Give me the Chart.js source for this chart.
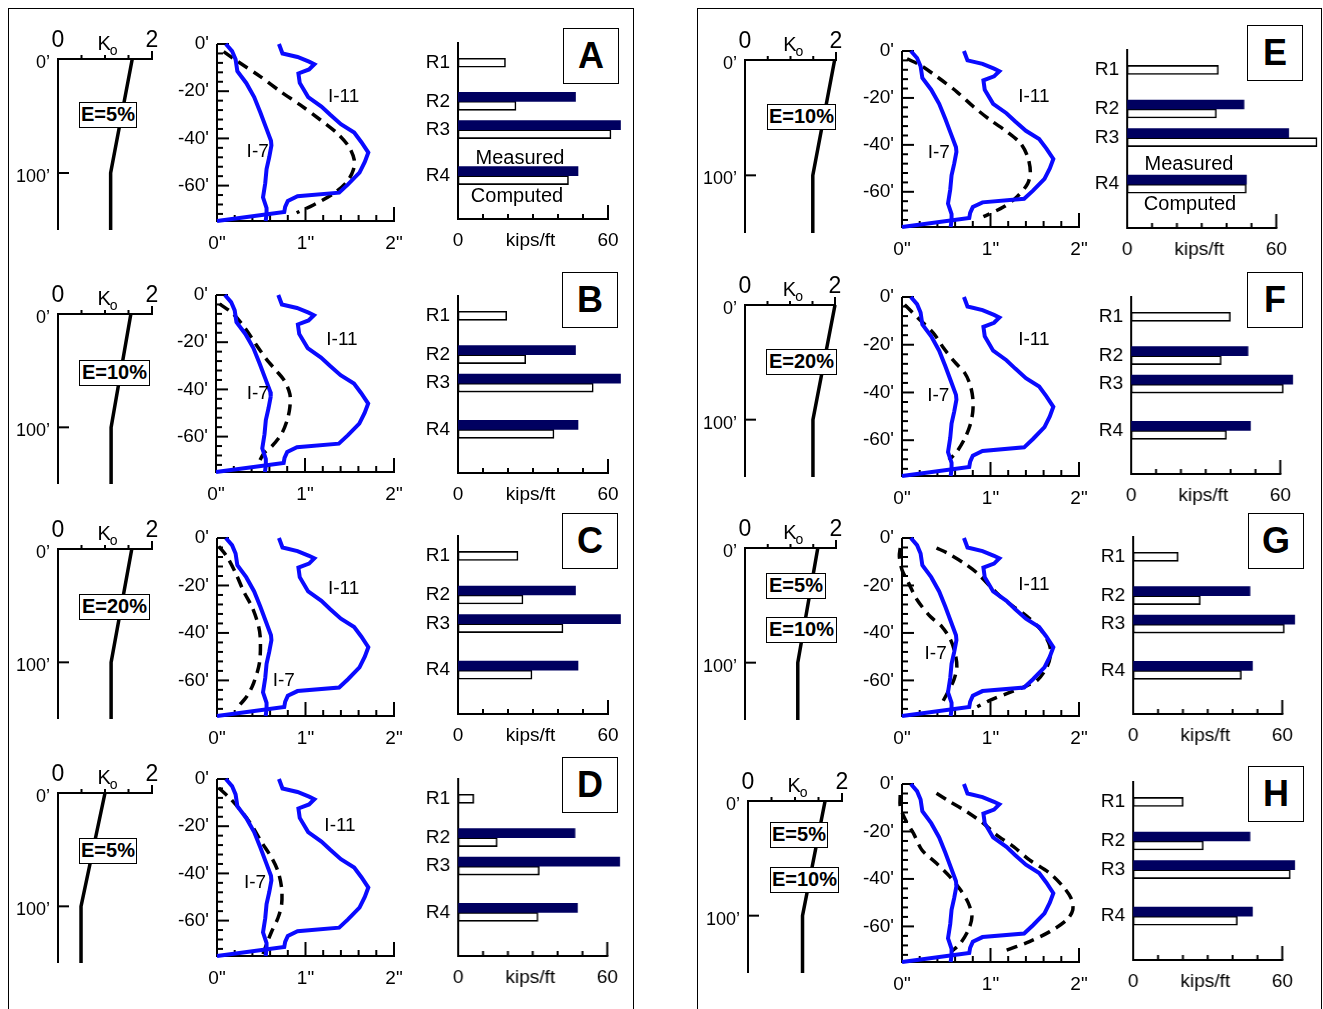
<!DOCTYPE html>
<html>
<head>
<meta charset="utf-8">
<script src="https://cdn.jsdelivr.net/npm/chart.js@4.4.1/dist/chart.umd.min.js"></script>
<style>
  body { margin: 0; width: 1323px; height: 1009px; position: relative; overflow: hidden; background: #fff;
         font-family: 'Liberation Sans', Arial, Helvetica, sans-serif; color: #000; }
  .frame { position: absolute; border: 1.5px solid #000; border-bottom: none; box-sizing: border-box; }
  .letter { position: absolute; border: 1.5px solid #000; background: #fff; box-sizing: border-box;
            font-weight: bold; font-size: 36px; text-align: center; }
  .tag { position: absolute; border: 1.5px solid #000; background: #fff; box-sizing: border-box;
         font-weight: bold; font-size: 20px; text-align: center; line-height: 23px; height: 26px; z-index: 5; }
  .txt { position: absolute; font-size: 20px; transform: translate(-50%, -50%); white-space: nowrap; z-index: 5; }
  canvas { position: absolute; }
</style>
</head>
<body>
<div class="frame" style="left:8px;top:8px;width:626px;height:1010px"></div>
<div class="frame" style="left:697px;top:8px;width:625px;height:1010px"></div>
<script>
const BLUE = '#0a0aff';
const NAVY = '#000060';
const FONT = "'Liberation Sans', Arial, Helvetica, sans-serif";

// measured wall deflection, [inches, depth ft]
const i7Measured = [[0.10,0],[0.17,-3],[0.21,-6.5],[0.23,-11.5],[0.33,-16.5],[0.42,-22.5],[0.49,-29],[0.55,-35],
  [0.61,-41],[0.615,-43],[0.59,-48],[0.56,-53],[0.545,-59],[0.52,-65],[0.56,-69.5],[0.56,-72],[0.55,-75]];
const i11Measured = [[0.70,0],[0.74,-4],[0.91,-5.5],[1.04,-7.5],[1.10,-8.6],[1.04,-10.8],[0.92,-12.5],[0.935,-16.5],
  [1.03,-22.5],[1.18,-26.5],[1.28,-30],[1.40,-34],[1.55,-37.5],[1.63,-41.5],[1.71,-46],[1.67,-50],[1.61,-54.5],
  [1.48,-59.5],[1.38,-63],[0.91,-64.5],[0.80,-66.5],[0.77,-69],[0.76,-71.2],[0,-75]];

// computed deflection, [inches, depth ft]
const calcA = [[0.075,-3.2],[0.21,-6.8],[0.49,-13.8],[0.72,-20.2],[0.94,-25.8],[1.17,-32.2],[1.36,-37.9],[1.49,-43.5],
  [1.55,-49],[1.54,-53.4],[1.47,-58.3],[1.32,-63.3],[1.09,-68.2],[0.9,-71.5]];
const calcB = [[0.04,-3.75],[0.19,-7.9],[0.33,-14.2],[0.45,-21],[0.57,-27.4],[0.68,-32.2],[0.77,-36.4],[0.83,-42],
  [0.83,-47.5],[0.8,-53],[0.74,-58.6],[0.63,-64],[0.54,-67],[0.48,-71]];
const calcC = [[0.02,-3.5],[0.11,-7.7],[0.21,-14.7],[0.30,-22.4],[0.40,-29.4],[0.47,-37.2],[0.49,-42.8],[0.48,-52.6],
  [0.415,-61],[0.34,-66.6],[0.245,-70.8]];
const calcD = [[0.02,-3.8],[0.15,-8.3],[0.28,-13.9],[0.39,-19.5],[0.50,-26.5],[0.62,-33.5],[0.69,-39.2],[0.73,-46.2],
  [0.73,-53.2],[0.69,-58.8],[0.62,-64.4],[0.56,-70],[0.52,-74.2]];
const calcE = [[0.057,-3.3],[0.21,-6.1],[0.40,-11.1],[0.62,-17.4],[0.81,-23.8],[1.0,-29.5],[1.19,-34.5],[1.34,-39.4],
  [1.42,-45.1],[1.45,-51.5],[1.42,-56.5],[1.30,-62.1],[1.15,-66.4],[0.92,-70.6]];
const calcF = [[0.03,-3.2],[0.18,-8.8],[0.355,-15.1],[0.47,-21.4],[0.59,-27],[0.71,-31.9],[0.77,-36.8],[0.80,-42.4],
  [0.80,-48],[0.77,-53.6],[0.71,-59.2],[0.62,-64.8],[0.53,-68.3]];
const calcG7 = [[-0.02,-4.2],[-0.03,-7.7],[0,-13.4],[0.075,-19],[0.17,-26],[0.32,-33.1],[0.45,-37.3],[0.55,-43],
  [0.60,-48.6],[0.62,-54.2],[0.585,-59.9],[0.51,-65.5],[0.43,-71]];
const calcG11 = [[0.39,-4.2],[0.51,-6.3],[0.70,-10.6],[0.85,-14.8],[0.96,-19],[1.11,-24.6],[1.26,-28.9],[1.415,-33.1],
  [1.57,-38.7],[1.66,-44.4],[1.68,-48.6],[1.64,-54.2],[1.53,-59.9],[1.38,-62.7],[1.19,-65.5],[1.0,-68.3],[0.85,-71.1]];
const calcH7 = [[-0.02,-4.6],[-0.02,-9.5],[0.04,-15.2],[0.13,-20.8],[0.225,-27.8],[0.39,-33.4],[0.54,-39],[0.66,-44.6],
  [0.75,-50.2],[0.79,-55.9],[0.75,-61.5],[0.66,-67.1],[0.56,-70.6]];
const calcH11 = [[0.39,-3.9],[0.54,-7.4],[0.73,-11.6],[0.92,-16.6],[1.07,-21.5],[1.26,-26.4],[1.44,-32],[1.67,-37.6],
  [1.82,-43.2],[1.91,-48.1],[1.93,-53],[1.86,-57.3],[1.67,-62.2],[1.44,-66.4],[1.14,-70.6]];

// Ko profiles (panels A..H): value at surface, at 100 ft, constant below
const koDepths = [0, 100, 150];
const koSurface = [1.58, 1.55, 1.57, 1.0, 1.97, 2.0, 1.6, 1.64];
const koAt100 = [1.12, 1.13, 1.13, 0.49, 1.49, 1.51, 1.16, 1.16];

// strut loads, kips/ft
const strutNames = ['R1', 'R2', 'R3', 'R4'];
const strutLevels = [11.7, 33.5, 49.5, 75.5];
const loadMeasured = [null, 47, 65, 48];
const loadA = [19, 23.2, 61.2, 44.2];
const loadB = [19.5, 27.1, 54.1, 38.4];
const loadC = [24, 26, 42, 29.6];
const loadD = [6.3, 15.7, 32.6, 32.1];
const loadE = [36.7, 35.9, 76.4, 47.9];
const loadF = [39.9, 36.2, 61.2, 38.3];
const loadG = [18.1, 27, 60.8, 43.5];
const loadH = [20.1, 28.2, 63.2, 41.9];

const loadTicks = [0, 29, 60];
const loadTickText = ['0', 'kips/ft', '60'];

const panels = [
  { id: 'A', ko: {x0:58, x2:152, top:59, bot:230}, defl: {x0:217, x2:394, top:44, bot:221},
    bars: {x0:458, x60:608, top:42, bot:219}, box: [563, 28], tags: [[79, 102, 58, 'E=5%']],
    calc: [calcA], loads: loadA, notes: [['I-11', 1.43, -22.3], ['I-7', 0.46, -45.6]], legend: [[520, 157], [517, 195]] },
  { id: 'B', ko: {x0:58, x2:152, top:314, bot:484}, defl: {x0:216, x2:394, top:295, bot:472},
    bars: {x0:458, x60:608, top:295, bot:473}, box: [562, 272], tags: [[79, 360, 71, 'E=10%']],
    calc: [calcB], loads: loadB, notes: [['I-11', 1.415, -19], ['I-7', 0.47, -42]] },
  { id: 'C', ko: {x0:58, x2:152, top:549, bot:719}, defl: {x0:217, x2:394, top:538, bot:716},
    bars: {x0:458, x60:608, top:535, bot:714}, box: [562, 513], tags: [[79, 594, 71, 'E=20%']],
    calc: [calcC], loads: loadC, notes: [['I-11', 1.43, -21.5], ['I-7', 0.755, -60]] },
  { id: 'D', ko: {x0:58, x2:152, top:793, bot:963}, defl: {x0:217, x2:394, top:779, bot:956},
    bars: {x0:458, x60:607, top:778, bot:956}, box: [562, 757], tags: [[79, 838, 58, 'E=5%']],
    calc: [calcD], loads: loadD, notes: [['I-11', 1.39, -20], ['I-7', 0.43, -44]] },
  { id: 'E', ko: {x0:745, x2:836, top:60, bot:233}, defl: {x0:902, x2:1079, top:51, bot:227},
    bars: {x0:1127, x60:1276, top:49, bot:228}, box: [1247, 25], tags: [[767, 104, 69, 'E=10%']],
    calc: [calcE], loads: loadE, notes: [['I-11', 1.49, -19.6], ['I-7', 0.415, -43.4]], legend: [[1189, 163], [1190, 203]] },
  { id: 'F', ko: {x0:745, x2:835, top:305, bot:477}, defl: {x0:902, x2:1079, top:297, bot:476},
    bars: {x0:1131, x60:1280, top:296, bot:474}, box: [1247, 272], tags: [[766, 349, 71, 'E=20%']],
    calc: [calcF], loads: loadF, notes: [['I-11', 1.49, -18], ['I-7', 0.41, -41.5]] },
  { id: 'G', ko: {x0:745, x2:836, top:548, bot:720}, defl: {x0:902, x2:1079, top:538, bot:716},
    bars: {x0:1133, x60:1282, top:536, bot:714}, box: [1248, 513], tags: [[766, 573, 60, 'E=5%'], [766, 617, 71, 'E=10%']],
    calc: [calcG7, calcG11], loads: loadG, notes: [['I-11', 1.49, -19.7], ['I-7', 0.38, -48.6]] },
  { id: 'H', ko: {x0:748, x2:842, top:801, bot:973}, defl: {x0:902, x2:1079, top:784, bot:962},
    bars: {x0:1133, x60:1282, top:781, bot:960}, box: [1248, 766], tags: [[770, 822, 58, 'E=5%'], [770, 867, 69, 'E=10%']],
    calc: [calcH7, calcH11], loads: loadH, notes: [] },
];

Chart.defaults.font.family = FONT;
Chart.defaults.font.size = 19;
Chart.defaults.color = '#000';
Chart.defaults.animation = false;

const xy = pairs => pairs.map(p => ({ x: p[0], y: p[1] }));

function canvasAt(l, t, w, h) {
  const cv = document.createElement('canvas');
  cv.width = w; cv.height = h;
  cv.style.left = l + 'px'; cv.style.top = t + 'px';
  cv.style.width = w + 'px'; cv.style.height = h + 'px';
  document.body.appendChild(cv);
  return cv;
}

function frame(kind, notes) {
  return {
    id: 'frame',
    beforeDatasetsDraw(chart) {
      const { ctx, scales: { x, y } } = chart;
      const X = v => x.getPixelForValue(v), Y = v => y.getPixelForValue(v);
      const seg = (a, b, c, d) => { ctx.beginPath(); ctx.moveTo(a, b); ctx.lineTo(c, d); ctx.stroke(); };
      ctx.save();
      ctx.strokeStyle = '#000';
      ctx.lineWidth = 2;
      if (kind === 'ko') {
        seg(X(0), Y(0) - 1, X(0), Y(150));
        seg(X(0) - 1, Y(0), X(2) + 1, Y(0));
        seg(X(0), Y(100), X(0) + 11, Y(100));
        [0.5, 1, 1.5].forEach(v => seg(X(v), Y(0), X(v), Y(0) - 4));
        seg(X(2), Y(0), X(2), Y(0) - 8);
      } else if (kind === 'defl') {
        const x0 = X(0), yb = Y(-75);
        seg(x0, Y(0), x0, yb + 1);
        seg(x0 - 1, yb, X(2) + 1, yb);
        for (let d = 0; d > -75; d -= 4) seg(x0, Y(d), x0 + (d % 20 === 0 ? 12 : 6), Y(d));
        for (let k = 1; k <= 10; k++) seg(X(k / 5), yb, X(k / 5), yb - (k % 5 === 0 ? 14 : 6));
      } else {
        const x0 = X(0), yb = Y(100);
        seg(x0, Y(0), x0, yb + 1);
        seg(x0 - 1, yb, X(60) + 1, yb);
        for (let v = 10; v <= 60; v += 10) seg(X(v), yb, X(v), yb - (v === 60 ? 14 : 5));
      }
      ctx.restore();
    },
    afterDatasetsDraw(chart) {
      const { ctx, scales: { x, y } } = chart;
      ctx.save();
      ctx.fillStyle = '#000';
      if (kind === 'ko') {
        const bx = x.getPixelForValue(0.84), by = y.getPixelForValue(0) - 9;
        ctx.font = '20px ' + FONT;
        ctx.textAlign = 'left'; ctx.textBaseline = 'alphabetic';
        ctx.fillText('K', bx, by);
        const w = ctx.measureText('K').width;
        ctx.font = '14px ' + FONT;
        ctx.fillText('o', bx + w - 1, by + 5);
      }
      (notes || []).forEach(n => {
        ctx.font = '19px ' + FONT;
        ctx.textAlign = 'center'; ctx.textBaseline = 'middle';
        ctx.fillText(n[0], x.getPixelForValue(n[1]), y.getPixelForValue(n[2]));
      });
      ctx.restore();
    }
  };
}

const baseOpts = () => ({
  responsive: false, animation: false, events: [],
  plugins: { legend: { display: false }, tooltip: { enabled: false } },
});

function koChart(p, i) {
  const g = p.ko, pad = { l: 52, t: 34, r: 14, b: 24 };
  const cv = canvasAt(g.x0 - pad.l, g.top - pad.t, g.x2 - g.x0 + pad.l + pad.r, g.bot - g.top + pad.t + pad.b);
  new Chart(cv, {
    type: 'line',
    data: { datasets: [{
      data: koDepths.map((d, k) => ({ x: k === 0 ? koSurface[i] : koAt100[i], y: d })),
      borderColor: '#000', borderWidth: 3.5, pointRadius: 0, clip: false, borderCapStyle: 'butt'
    }] },
    options: Object.assign(baseOpts(), {
      layout: { padding: { left: 0, top: 0, right: pad.r, bottom: pad.b } },
      scales: {
        x: { type: 'linear', position: 'top', min: 0, max: 2,
             grid: { display: false, drawTicks: false }, border: { display: false },
             afterBuildTicks: s => { s.ticks = [0, 2].map(v => ({ value: v })); },
             ticks: { font: { size: 23 }, padding: 5, maxRotation: 0, callback: v => String(v) },
             afterFit: s => { s.height = pad.t; } },
        y: { type: 'linear', reverse: true, min: 0, max: 150,
             grid: { display: false, drawTicks: false }, border: { display: false },
             afterBuildTicks: s => { s.ticks = [0, 100].map(v => ({ value: v })); },
             ticks: { font: { size: 18 }, padding: 8, labelOffset: 4, callback: v => v + '\u2019' },
             afterFit: s => { s.width = pad.l; } }
      }
    }),
    plugins: [frame('ko')]
  });
}

function deflChart(p) {
  const g = p.defl, pad = { l: 52, t: 24, r: 24, b: 36 };
  const cv = canvasAt(g.x0 - pad.l, g.top - pad.t, g.x2 - g.x0 + pad.l + pad.r, g.bot - g.top + pad.t + pad.b);
  const sets = [
    { data: xy(i7Measured), borderColor: BLUE, borderWidth: 4, pointRadius: 0, tension: 0, clip: false },
    { data: xy(i11Measured), borderColor: BLUE, borderWidth: 4, pointRadius: 0, tension: 0, clip: false },
  ];
  p.calc.forEach(c => sets.push({ data: xy(c), borderColor: '#000', borderWidth: 3.5, borderDash: [11, 7],
    pointRadius: 0, tension: 0.3, clip: false, borderCapStyle: 'butt' }));
  new Chart(cv, {
    type: 'line',
    data: { datasets: sets },
    options: Object.assign(baseOpts(), {
      layout: { padding: { left: 0, top: pad.t, right: pad.r, bottom: 0 } },
      scales: {
        x: { type: 'linear', min: 0, max: 2,
             grid: { display: false, drawTicks: false }, border: { display: false },
             afterBuildTicks: s => { s.ticks = [0, 1, 2].map(v => ({ value: v })); },
             ticks: { padding: 11, maxRotation: 0, callback: v => v + '"' },
             afterFit: s => { s.height = pad.b; } },
        y: { type: 'linear', min: -75, max: 0,
             grid: { display: false, drawTicks: false }, border: { display: false },
             afterBuildTicks: s => { s.ticks = [0, -20, -40, -60].map(v => ({ value: v })); },
             ticks: { padding: 8, callback: v => v + "'" },
             afterFit: s => { s.width = pad.l; } }
      }
    }),
    plugins: [frame('defl', p.notes)]
  });
}

function barChart(p) {
  const g = p.bars, pad = { l: 42, t: 24, r: 2, b: 36 };
  const xMax = 78;
  const right = g.x0 + (g.x60 - g.x0) * xMax / 60;
  const cv = canvasAt(g.x0 - pad.l, g.top - pad.t, right - g.x0 + pad.l + pad.r, g.bot - g.top + pad.t + pad.b);
  new Chart(cv, {
    type: 'bar',
    data: { datasets: [
      { label: 'Measured', data: strutLevels.map((lv, k) => ({ x: loadMeasured[k], y: lv })),
        backgroundColor: NAVY, borderWidth: 0, barThickness: 9 },
      { label: 'Computed', data: strutLevels.map((lv, k) => ({ x: p.loads[k], y: lv })),
        backgroundColor: '#fff', borderColor: '#000', borderWidth: 1.6, borderSkipped: false, barThickness: 9 }
    ] },
    options: Object.assign(baseOpts(), {
      indexAxis: 'y', skipNull: true,
      layout: { padding: { left: 0, top: pad.t, right: pad.r, bottom: 0 } },
      scales: {
        x: { type: 'linear', min: 0, max: xMax,
             grid: { display: false, drawTicks: false }, border: { display: false },
             afterBuildTicks: s => { s.ticks = loadTicks.map(v => ({ value: v })); },
             ticks: { padding: 10, maxRotation: 0, autoSkip: false,
                      callback: (v, k) => loadTickText[k] },
             afterFit: s => { s.height = pad.b; } },
        y: { type: 'linear', reverse: true, min: 0, max: 100, offset: false,
             grid: { display: false, drawTicks: false }, border: { display: false },
             afterBuildTicks: s => { s.ticks = strutLevels.map(v => ({ value: v })); },
             ticks: { padding: 8, autoSkip: false, callback: (v, k) => strutNames[k] },
             afterFit: s => { s.width = pad.l; } }
      }
    }),
    plugins: [frame('bars')]
  });
}

function addDiv(cls, css, text) {
  const d = document.createElement('div');
  d.className = cls;
  d.style.cssText = css;
  d.textContent = text;
  document.body.appendChild(d);
}

panels.forEach((p, i) => {
  koChart(p, i);
  deflChart(p);
  barChart(p);
  addDiv('letter', `left:${p.box[0]}px;top:${p.box[1]}px;width:56px;height:56px;line-height:53px`, p.id);
  p.tags.forEach(t => addDiv('tag', `left:${t[0]}px;top:${t[1]}px;width:${t[2]}px`, t[3]));
  if (p.legend) {
    addDiv('txt', `left:${p.legend[0][0]}px;top:${p.legend[0][1]}px`, 'Measured');
    addDiv('txt', `left:${p.legend[1][0]}px;top:${p.legend[1][1]}px`, 'Computed');
  }
});
</script>
</body>
</html>
